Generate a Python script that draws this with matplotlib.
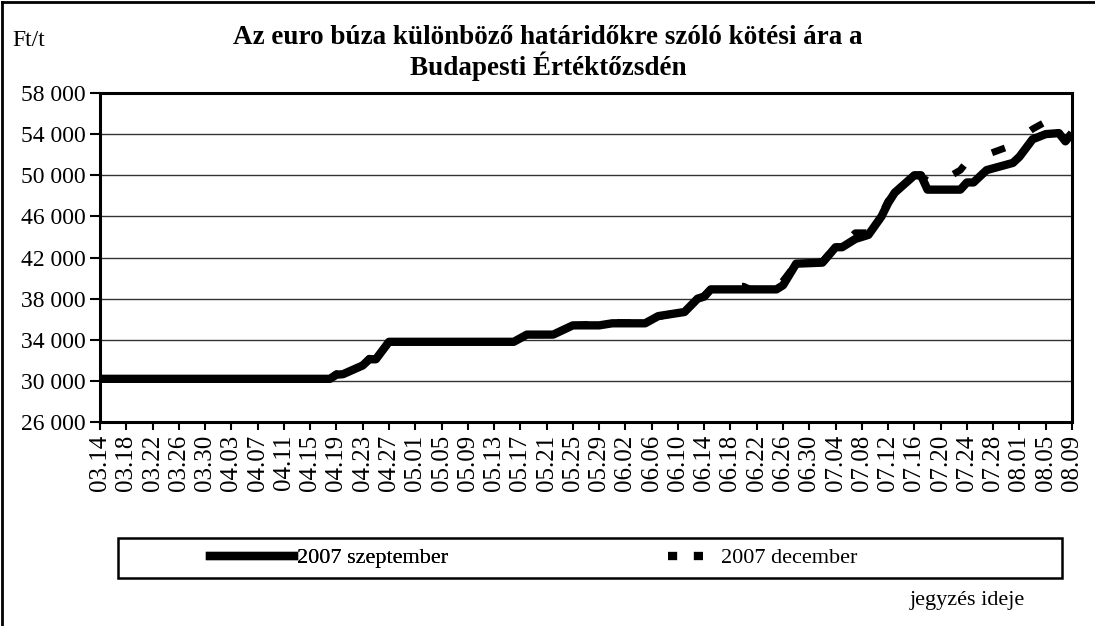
import matplotlib
matplotlib.use("Agg")
import matplotlib.pyplot as plt
import matplotlib.dates as mdates
from matplotlib.lines import Line2D
from matplotlib.patches import Rectangle
from matplotlib.ticker import FuncFormatter
import pandas as pd

plt.rcParams['font.family'] = ['Liberation Serif', 'DejaVu Serif']

# 2007 szeptember contract (Ft/t)
sep_dates = ["03-14", "04-18", "04-19", "04-20", "04-23", "04-24", "04-25", "04-27",
             "05-16", "05-18", "05-22", "05-25", "05-29", "05-31", "06-05", "06-07",
             "06-11", "06-13", "06-14", "06-15", "06-25", "06-26", "06-28", "07-02",
             "07-04", "07-05", "07-07", "07-09", "07-11", "07-12", "07-13", "07-16",
             "07-17", "07-18", "07-23", "07-24", "07-25", "07-27", "07-31", "08-01",
             "08-03", "08-05", "08-07", "08-08", "08-09"]
sep_values = [30200, 30200, 30600, 30650, 31500, 32100, 32100, 33800,
              33800, 34500, 34500, 35400, 35400, 35600, 35600, 36300,
              36700, 38000, 38200, 38900, 38900, 39300, 41400, 41500,
              43000, 43000, 43800, 44200, 46000, 47300, 48300, 50000,
              50000, 48600, 48600, 49300, 49300, 50500, 51200, 51800,
              53500, 54000, 54100, 53300, 54100]

# 2007 december contract (Ft/t)
dec_dates = ["03-14", "04-18", "04-19", "04-20", "04-23", "04-24", "04-25", "04-27",
             "05-08", "05-09", "05-11", "05-12", "05-16", "05-17", "05-22", "05-24",
             "05-29", "05-30", "05-31", "06-05", "06-06", "06-11", "06-14", "06-15",
             "06-18", "06-20", "06-21", "06-25", "06-28", "07-02", "07-04", "07-06",
             "07-07", "07-09", "07-11", "07-12", "07-16", "07-17", "07-19", "07-23",
             "07-24", "07-30", "07-31", "08-03", "08-05", "08-09"]
dec_values = [30200, 30200, 30700, 30650, 31500, 32200, 32100, 33800,
              33800, 34100, 34100, 33800, 33800, 34500, 34500, 35300,
              35600, 36000, 35700, 35600, 36100, 36800, 38300, 38900,
              39200, 39200, 38900, 38900, 41400, 41600, 43100, 43800,
              44400, 44400, 46200, 47500, 50000, 49900, 49000, 50500,
              51300, 52700, 53100, 54500, 55200, 55100]

y_ticks = [26000, 30000, 34000, 38000, 42000, 46000, 50000, 54000, 58000]

sep_x = pd.to_datetime(["2007-" + d for d in sep_dates])
dec_x = pd.to_datetime(["2007-" + d for d in dec_dates])
x_start = pd.Timestamp("2007-03-14")
x_end = pd.Timestamp("2007-08-09")

fig = plt.figure(figsize=(10.95, 6.26), dpi=100)
ax = fig.add_axes([100 / 1095, 1 - 422 / 626, 972 / 1095, 329 / 626])

dec_style = (0, (2, 4.5))
ax.plot(dec_x, dec_values, color="black", lw=5, linestyle=dec_style,
        dash_capstyle="butt", zorder=3)
ax.plot(sep_x, sep_values, color="black", lw=6, solid_joinstyle="round",
        solid_capstyle="butt", zorder=4)

ax.set_xlim(x_start, x_end)
ax.set_ylim(26000, 58000)
ax.set_yticks(y_ticks)
ax.yaxis.set_major_formatter(FuncFormatter(lambda v, p: f"{int(v):,}".replace(",", " ")))
ax.set_xticks(pd.date_range(x_start, x_end, freq="4D"))
ax.xaxis.set_major_formatter(mdates.DateFormatter("%m.%d"))
ax.tick_params(axis="x", labelrotation=90, labelsize=18, length=6, width=1.5,
               direction="out", pad=3)
ax.tick_params(axis="y", labelsize=17, length=7, width=1.5, direction="out", pad=3)

ax.grid(axis="y", color="#333333", lw=1)
ax.set_axisbelow(True)
for s in ax.spines.values():
    s.set_linewidth(2.2)
    s.set_color("black")

fig.text(548 / 1095, 1 - 37 / 626, "Az euro búza különböző határidőkre szóló kötési ára a",
         ha="center", va="center", fontsize=19.5, fontweight="bold")
fig.text(548 / 1095, 1 - 66 / 626, "Budapesti Értéktőzsdén",
         ha="center", va="center", fontsize=19.5, fontweight="bold")
fig.text(12 / 1095, 1 - 41 / 626, "Ft/t", ha="left", va="center", fontsize=17)
fig.text(1025 / 1095, 1 - 600 / 626, "jegyzés ideje", ha="right", va="center", fontsize=16)

# legend box with two entries
fig.add_artist(Rectangle((118 / 1095, 1 - 578 / 626), 944 / 1095, 40 / 626,
                         transform=fig.transFigure, fill=False, lw=1.8, ec="black"))
h_sep = Line2D([], [], color="black", lw=6)
h_dec = Line2D([], [], color="black", lw=6, linestyle=(0, (1.1, 2.0)), dash_capstyle="butt")
leg1 = fig.legend([h_sep], ["2007 szeptember"], loc="center left",
                  bbox_to_anchor=(210 / 1095, 1 - 558 / 626), frameon=False,
                  fontsize=16, handlelength=3.8, handletextpad=0.1,
                  borderpad=0, borderaxespad=0)
fig.add_artist(leg1)
fig.legend([h_dec], ["2007 december"], loc="center left",
           bbox_to_anchor=(668 / 1095, 1 - 558 / 626), frameon=False,
           fontsize=16, handlelength=1.9, handletextpad=0.5,
           borderpad=0, borderaxespad=0)

# outer chart frame (left and top)
fig.add_artist(Line2D([2 / 1095, 2 / 1095], [0, 1 - 2 / 626], transform=fig.transFigure,
                      color="black", lw=2))
fig.add_artist(Line2D([2 / 1095, 1], [1 - 2 / 626, 1 - 2 / 626], transform=fig.transFigure,
                      color="black", lw=2))

fig.savefig("out.png", dpi=100)
